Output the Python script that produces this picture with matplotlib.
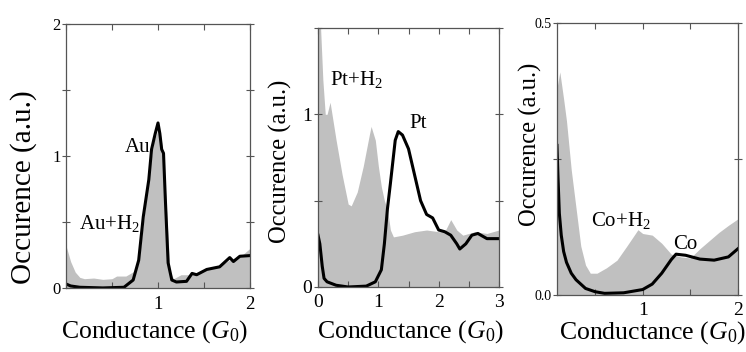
import matplotlib
matplotlib.use("Agg")
import matplotlib.pyplot as plt

plt.rcParams['font.family'] = 'Liberation Serif'
plt.rcParams['mathtext.fontset'] = 'custom'
plt.rcParams['mathtext.rm'] = 'Liberation Serif'
plt.rcParams['mathtext.it'] = 'Liberation Serif:italic'

GRAY = '#c0c0c0'

# --- Au panel ---
au_h2_x = [0.0, 0.05, 0.1, 0.15, 0.2, 0.3, 0.4, 0.5, 0.55, 0.65, 0.7, 0.75, 0.8, 0.85, 0.9,
           0.95, 1.0, 1.03, 1.06, 1.1, 1.13, 1.17, 1.25, 1.35, 1.5, 1.7, 1.8, 1.9, 2.0]
au_h2_y = [0.32, 0.2, 0.12, 0.08, 0.07, 0.075, 0.065, 0.07, 0.09, 0.09, 0.11, 0.13, 0.25, 0.55, 0.85,
           1.1, 1.2, 1.15, 1.0, 0.5, 0.12, 0.07, 0.1, 0.1, 0.13, 0.18, 0.22, 0.24, 0.3]
au_x = [0.0, 0.05, 0.15, 0.4, 0.63, 0.73, 0.79, 0.84, 0.9, 0.93, 0.97, 1.0, 1.02, 1.04, 1.06,
        1.08, 1.11, 1.15, 1.2, 1.31, 1.37, 1.42, 1.53, 1.67, 1.78, 1.82, 1.89, 2.0]
au_y = [0.03, 0.015, 0.005, 0.0, 0.005, 0.06, 0.21, 0.54, 0.82, 1.05, 1.17, 1.25, 1.17, 1.05, 1.02,
        0.67, 0.19, 0.06, 0.045, 0.05, 0.11, 0.10, 0.14, 0.16, 0.23, 0.2, 0.24, 0.245]

# --- Pt panel ---
pt_h2_x = [0.0, 0.03, 0.08, 0.12, 0.15, 0.2, 0.3, 0.4, 0.5, 0.55, 0.65, 0.75, 0.85, 0.88, 0.95,
           1.0, 1.05, 1.1, 1.15, 1.2, 1.25, 1.4, 1.6, 1.8, 2.0, 2.1, 2.2, 2.3, 2.4, 2.6, 2.8, 3.0]
pt_h2_y = [1.6, 1.6, 1.2, 1.0, 1.0, 1.07, 0.85, 0.65, 0.48, 0.47, 0.55, 0.7, 0.88, 0.93, 0.85,
           0.7, 0.58, 0.5, 0.45, 0.33, 0.29, 0.3, 0.32, 0.33, 0.32, 0.32, 0.39, 0.33, 0.3, 0.32, 0.31, 0.33]
pt_x = [0.0, 0.03, 0.07, 0.1, 0.15, 0.3, 0.5, 0.8, 0.95, 1.05, 1.1, 1.15, 1.2, 1.28, 1.33, 1.4,
        1.5, 1.6, 1.7, 1.8, 1.9, 2.0, 2.1, 2.2, 2.3, 2.35, 2.45, 2.55, 2.65, 2.7, 2.8, 3.0]
pt_y = [0.3, 0.25, 0.12, 0.05, 0.03, 0.01, 0.0, 0.005, 0.03, 0.1, 0.25, 0.45, 0.6, 0.85, 0.9, 0.88,
        0.8, 0.65, 0.5, 0.42, 0.4, 0.33, 0.32, 0.3, 0.25, 0.22, 0.25, 0.3, 0.31, 0.3, 0.28, 0.28]

# --- Co panel ---
co_h2_x = [0.1, 0.13, 0.17, 0.2, 0.25, 0.3, 0.35, 0.4, 0.45, 0.52, 0.62, 0.73, 0.83, 0.9, 0.95,
           1.0, 1.1, 1.2, 1.3, 1.4, 1.5, 1.6, 1.7, 1.8, 1.9, 2.0]
co_h2_y = [0.38, 0.41, 0.36, 0.32, 0.23, 0.16, 0.09, 0.055, 0.04, 0.04, 0.05, 0.064, 0.089, 0.107, 0.12,
           0.113, 0.11, 0.095, 0.075, 0.07, 0.068, 0.085, 0.1, 0.115, 0.128, 0.14]
co_x = [0.1, 0.11, 0.125, 0.145, 0.17, 0.2, 0.25, 0.3, 0.4, 0.5, 0.6, 0.8, 1.0, 1.1, 1.2, 1.3,
        1.35, 1.45, 1.6, 1.75, 1.9, 2.0]
co_y = [0.275, 0.22, 0.15, 0.11, 0.08, 0.06, 0.04, 0.028, 0.012, 0.006, 0.003, 0.004, 0.01, 0.02,
        0.04, 0.065, 0.075, 0.073, 0.066, 0.064, 0.07, 0.085]

fig = plt.figure(figsize=(7.46, 3.52), dpi=100)


def style(ax, xlim, ylim, xt, xtl, yt, ytl, xfs, yfs, ylfs, ylpos, xlpos, xpad=5):
    ax.set_xlim(*xlim)
    ax.set_ylim(*ylim)
    ax.set_xticks(xt)
    ax.set_xticklabels(xtl, fontsize=xfs)
    ax.set_yticks(yt)
    ax.set_yticklabels(ytl, fontsize=yfs)
    ax.tick_params(axis='x', direction='in', top=True, length=4, width=0.8,
                   color='#555555', pad=xpad)
    ax.tick_params(axis='y', direction='inout', right=True, length=6, width=0.8,
                   color='#555555', pad=1)
    for s in ax.spines.values():
        s.set_color('#555555')
        s.set_linewidth(0.9)
    ax.set_xlabel('Conductance ($G_0$)', fontsize=18.5)
    ax.set_ylabel('Occurence (a.u.)', fontsize=ylfs)
    ax.yaxis.set_label_coords(*ylpos)
    ax.xaxis.set_label_coords(*xlpos)


ax1 = fig.add_axes([0.0885, 0.182, 0.2466, 0.75])
ax1.fill_between(au_h2_x, au_h2_y, color=GRAY, lw=0)
ax1.plot(au_x, au_y, color='black', lw=2.2)
style(ax1, (0, 2), (0, 2), [0, 0.5, 1, 1.5, 2], ['', '', '1', '', '2'],
      [0, 0.5, 1, 1.5, 2], ['0', '', '1', '', '2'], 13.5, 12, 21, (-0.16, 0.38), (0.48, -0.115),
      xpad=6)
ax1.text(0.64, 1.03, 'Au', fontsize=15)
ax1.text(0.14, 0.45, 'Au+H$_2$', fontsize=15)

ax2 = fig.add_axes([0.4263, 0.1847, 0.2426, 0.7358])
ax2.fill_between(pt_h2_x, pt_h2_y, color=GRAY, lw=0)
ax2.plot(pt_x, pt_y, color='black', lw=2.2)
style(ax2, (0, 3), (0, 1.5), [0, 0.5, 1, 1.5, 2, 2.5, 3], ['0', '', '1', '', '2', '', '3'],
      [0, 0.5, 1, 1.5], ['0', '', '1', ''], 14, 14, 17.7, (-0.145, 0.485), (0.51, -0.12))
ax2.text(0.2, 1.17, 'Pt+H$_2$', fontsize=15)
ax2.text(1.52, 0.92, 'Pt', fontsize=15)

ax3 = fig.add_axes([0.7466, 0.162, 0.2426, 0.7727])
ax3.fill_between(co_h2_x, co_h2_y, color=GRAY, lw=0)
ax3.plot(co_x, co_y, color='black', lw=2.2)
style(ax3, (0.1, 2), (0, 0.5), [0.5, 1, 1.5, 2], ['', '1', '', '2'],
      [0, 0.25, 0.5], ['0.0', '', '0.5'], 14, 10, 17.7, (-0.085, 0.555), (0.53, -0.09))
ax3.text(0.46, 0.127, 'Co+H$_2$', fontsize=15)
ax3.text(1.32, 0.085, 'Co', fontsize=15)

fig.savefig('out.png', dpi=100)
